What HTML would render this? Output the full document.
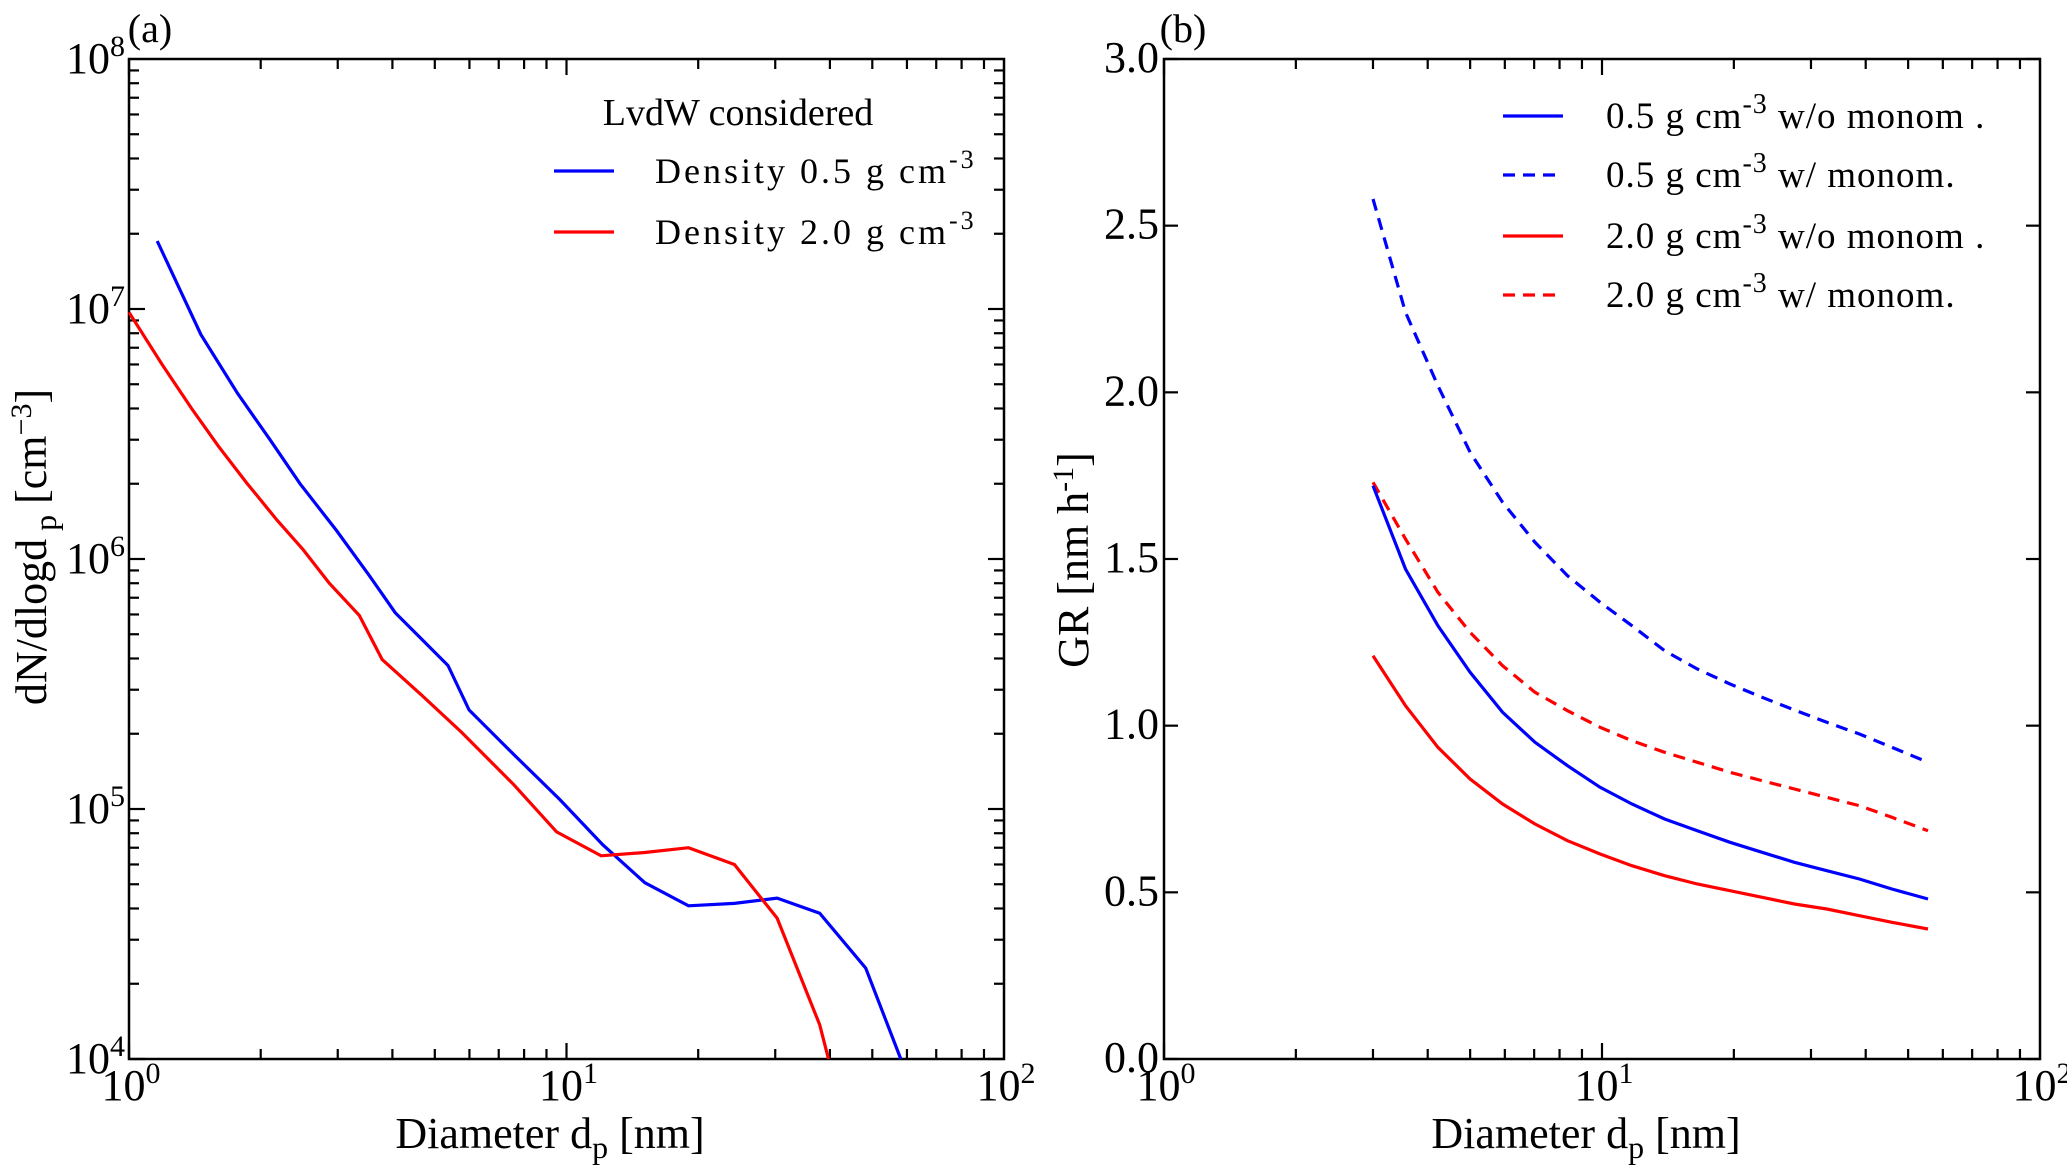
<!DOCTYPE html>
<html><head><meta charset="utf-8"><style>
body{margin:0;background:#fff}
svg text{font-family:"Liberation Serif",serif;fill:#000}
</style></head><body>
<svg id="fig" width="2067" height="1165" viewBox="0 0 2067 1165" xmlns="http://www.w3.org/2000/svg"></svg>
<script>
// Panel (a) data
const aBlueX=[1.16,1.46,1.77,2.10,2.46,2.98,3.54,4.06,5.36,5.99,7.58,9.66,12.1,15.1,19.0,24.2,30.3,37.9,48.3,58.1];
const aBlueY=[1.87e7,7.9e6,4.6e6,3.0e6,2.0e6,1.3e6,8.6e5,6.1e5,3.75e5,2.49e5,1.65e5,1.09e5,7.2e4,5.07e4,4.1e4,4.19e4,4.4e4,3.83e4,2.31e4,1e4];
const aRedX=[1.0,1.19,1.39,1.60,1.86,2.18,2.50,2.87,3.36,3.79,4.67,5.75,7.58,9.49,12.0,15.1,19.0,24.2,30.3,37.9,39.7];
const aRedY=[9.7e6,6.0e6,4.0e6,2.83e6,2.01e6,1.43e6,1.09e6,8.0e5,5.95e5,3.96e5,2.85e5,2.03e5,1.25e5,8.1e4,6.5e4,6.7e4,7.0e4,6.0e4,3.66e4,1.37e4,1e4];
// Panel (b) data
const bX=[3.0,3.56,4.22,5.0,5.93,7.03,8.34,9.9,11.7,13.9,16.5,19.6,23.2,27.5,32.6,38.7,45.9,55.5];
const bBlueSolid=[1.72,1.47,1.30,1.16,1.04,0.95,0.88,0.815,0.765,0.72,0.685,0.65,0.62,0.59,0.565,0.54,0.51,0.48];
const bBlueDash=[2.58,2.24,2.02,1.82,1.67,1.55,1.45,1.37,1.30,1.225,1.17,1.125,1.085,1.047,1.01,0.975,0.935,0.89];
const bRedSolid=[1.21,1.06,0.935,0.84,0.765,0.705,0.655,0.615,0.58,0.55,0.525,0.505,0.485,0.465,0.45,0.43,0.41,0.39];
const bRedDash=[1.73,1.56,1.40,1.28,1.18,1.10,1.045,0.995,0.955,0.92,0.89,0.86,0.835,0.81,0.785,0.76,0.725,0.685];
const yTicksB=[0,0.5,1.0,1.5,2.0,2.5,3.0];

const NS="http://www.w3.org/2000/svg";
const svg=document.getElementById('fig');
function mk(tag,attrs,parent){const e=document.createElementNS(NS,tag);for(const k in attrs)e.setAttribute(k,attrs[k]);(parent||svg).appendChild(e);return e;}

const A={l:129,r:1004,t:59,b:1059};
const B={l:1164,r:2040,t:59,b:1059};
const ax=v=>A.l+(Math.log10(v)/2)*(A.r-A.l);
const ay=v=>A.b-((Math.log10(v)-4)/4)*(A.b-A.t);
const bx=v=>B.l+(Math.log10(v)/2)*(B.r-B.l);
const by=v=>B.b-(v/3)*(B.b-B.t);

function line(x1,y1,x2,y2,p){return mk('line',{x1,y1,x2,y2,stroke:'#000','stroke-width':2.2},p);}
function txt(x,y,s,size,anchor,p){const t=mk('text',{x,y,'font-size':size,'text-anchor':anchor||'middle'},p);t.innerHTML=s;return t;}

function xLogTicks(P,fx,g){
  for(let d=0;d<2;d++)for(let m=1;m<=10;m++){
    if(m==10)continue;
    const v=Math.pow(10,d)*m;
    const x=fx(v); const L=(m==1)?16:10;
    line(x,P.b,x,P.b-L,g); line(x,P.t,x,P.t+L,g);
  }
  ['0','1','2'].forEach((s,i)=>{
    const t=txt(fx(Math.pow(10,i))+2,P.b+41,'10<tspan dy="-17" font-size="30">'+s+'</tspan>',44,'middle',g);
    
    
  });
}

// Panel A
const ga=mk('g',{});


mk('rect',{x:A.l,y:A.t,width:A.r-A.l,height:A.b-A.t,fill:'none',stroke:'#000','stroke-width':2.5},ga);
xLogTicks(A,ax,ga);
for(let d=4;d<8;d++)for(let m=1;m<=9;m++){
  const y=ay(m*Math.pow(10,d)); const L=m==1?16:10;
  line(A.l,y,A.l+L,y,ga); line(A.r,y,A.r-L,y,ga);
}
for(let d=4;d<=8;d++){
  const t=txt(A.l-4,ay(Math.pow(10,d))+14,'10<tspan dy="-17" font-size="30">'+d+'</tspan>',44,'end',ga);
  
  
}
function series(xs,ys,fx,fy,color,dash,name,g){
  const d=xs.map((x,i)=>(i?'L':'M')+fx(x).toFixed(1)+','+fy(ys[i]).toFixed(1)).join(' ');
  const p=mk('path',{d,fill:'none',stroke:color,'stroke-width':3.2,'stroke-dasharray':dash||'none'},g);
  
  
}
series(aBlueX,aBlueY,ax,ay,'#0000ff',null,'line-density-0-5',ga);
series(aRedX,aRedY,ax,ay,'#ff0000',null,'line-density-2-0',ga);
let t;
t=txt(150,42,'(a)',40,'middle',ga);
t=txt(550,1148,'Diameter d<tspan dy="10" font-size="32">p</tspan><tspan dy="-10"> [nm]</tspan>',44,'middle',ga);
t=txt(0,0,'dN/dlogd<tspan dy="10" font-size="32"> p</tspan><tspan dy="-10"> [cm</tspan><tspan dy="-15" font-size="30">−3</tspan><tspan dy="15">]</tspan>',44,'middle',ga);
t.setAttribute('transform','translate(46,547) rotate(-90)');
t=txt(738,125,'LvdW considered',38,'middle',ga);
[['#0000ff','0.5',171],['#ff0000','2.0',232]].forEach(([c,v,y])=>{
  const g=mk('g',{},ga);
  
  
  mk('line',{x1:554,y1:y,x2:614,y2:y,stroke:c,'stroke-width':3.2},g);
  txt(655,y+12,'Density '+v+' g cm<tspan dy="-15" font-size="26">-3</tspan>',36,'start',g).setAttribute('letter-spacing','3');
});

// Panel B
const gb=mk('g',{});


mk('rect',{x:B.l,y:B.t,width:B.r-B.l,height:B.b-B.t,fill:'none',stroke:'#000','stroke-width':2.5},gb);
xLogTicks(B,bx,gb);
yTicksB.forEach(v=>{
  const y=by(v); line(B.l,y,B.l+14,y,gb); line(B.r,y,B.r-14,y,gb);
  const t=txt(B.l-5,y+13,v.toFixed(1),44,'end',gb);
  
  
});
series(bX,bBlueDash,bx,by,'#0000ff','12 8','line-0-5-with-monomer',gb);
series(bX,bRedDash,bx,by,'#ff0000','12 8','line-2-0-with-monomer',gb);
series(bX,bBlueSolid,bx,by,'#0000ff',null,'line-0-5-without-monomer',gb);
series(bX,bRedSolid,bx,by,'#ff0000',null,'line-2-0-without-monomer',gb);
t=txt(1183,42,'(b)',40,'middle',gb);
t=txt(1586,1148,'Diameter d<tspan dy="10" font-size="32">p</tspan><tspan dy="-10"> [nm]</tspan>',44,'middle',gb);
t=txt(0,0,'GR [nm h<tspan dy="-15" font-size="30">-1</tspan><tspan dy="15">]</tspan>',44,'middle',gb);
t.setAttribute('transform','translate(1088,560) rotate(-90)');
[['#0000ff',null,'0.5','w/o monom .',116],['#0000ff','12 8','0.5','w/ monom.',175],['#ff0000',null,'2.0','w/o monom .',236],['#ff0000','12 8','2.0','w/ monom.',295]].forEach(([c,d,v,s,y])=>{
  const g=mk('g',{},gb);
  
  
  mk('line',{x1:1503,y1:y,x2:1563,y2:y,stroke:c,'stroke-width':3.2,'stroke-dasharray':d||'none'},g);
  txt(1606,y+12,v+' g cm<tspan dy="-15" font-size="28">-3</tspan><tspan dy="15"> '+s+'</tspan>',37,'start',g).setAttribute('letter-spacing','1');
});
</script>
</body></html>
